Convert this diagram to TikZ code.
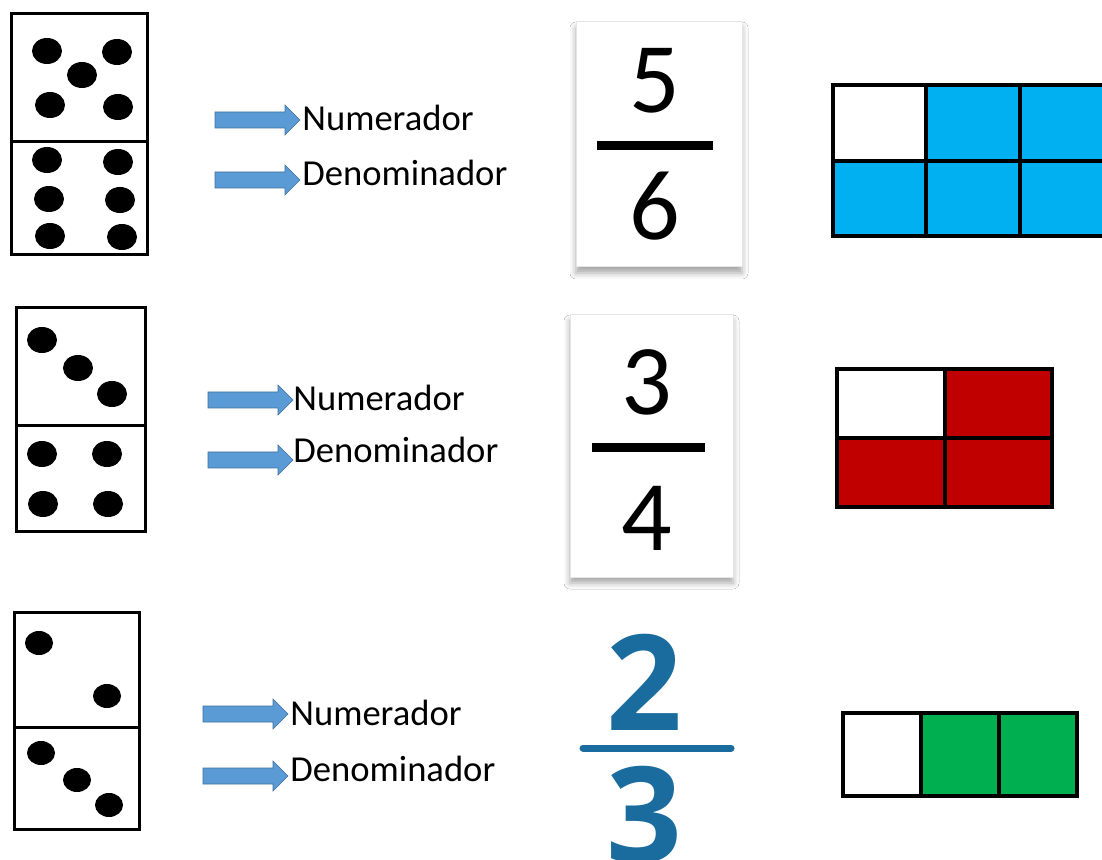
\documentclass[tikz,border=0pt]{standalone}
\usepackage{fontspec}
\setmainfont{Carlito}
\newfontfamily\opensans{Open Sans}
\usetikzlibrary{shadows.blur}
\definecolor{arrowblue}{RGB}{91,155,213}
\definecolor{arrowedge}{RGB}{65,113,156}
\definecolor{cyanfill}{RGB}{0,176,240}
\definecolor{redfill}{RGB}{192,0,0}
\definecolor{greenfill}{RGB}{0,176,80}
\definecolor{fracblue}{RGB}{27,108,158}
\begin{document}
\begin{tikzpicture}[x=0.5pt,y=-0.5pt,
  domino/.style={draw=black,line width=1.5pt,fill=white},
  dominoline/.style={draw=black,line width=1.5pt},
  pip/.style={fill=black},
  lbl/.style={inner sep=0pt,anchor=base west,font=\fontsize{18.3}{20}\selectfont},
  digit/.style={inner sep=0pt,anchor=base,font=\fontsize{50}{55}\selectfont},
  bigdigit/.style={inner sep=0pt,anchor=base,text=fracblue,font=\opensans\bfseries\fontsize{66.5}{70}\selectfont},
  card/.style={draw=black!10,line width=0.5pt,fill=white,blur shadow={shadow xshift=0pt,shadow yshift=-3pt,shadow blur radius=3pt,shadow opacity=35}},
  fracbar/.style={draw=black,line width=4.5pt},
  gridline/.style={draw=black,line width=1.8pt},
  barrow/.pic={\filldraw[fill=arrowblue,draw=arrowedge,line width=0.3pt] (0,-8) -- (70,-8) -- (70,-15) -- (85,0) -- (70,15) -- (70,8) -- (0,8) -- cycle;}
]
\clip (0,0) rectangle (1102,860);
\fill[white] (0,0) rectangle (1102,860);

% ---------- Row 1 ----------
\draw[domino] (11,14) rectangle (147,255);
\draw[dominoline] (11,142) -- (147,142);
\foreach \p in {(47,51),(117,52),(82,75),(50,105),(118,107),
                (47,160),(118,162),(49,199),(120,200),(50,236),(122,237)}
  \fill[pip] \p ellipse [x radius=7.5pt, y radius=6.5pt];

\pic at (215,120) {barrow};
\pic at (215,180) {barrow};
\node[lbl] (num1) at (302,131) {Numerador};
\node[lbl] (den1) at (302,186) {Denominador};

\draw[card] (576,22) rectangle (742,267);
\node[digit] (f1n) at (655,113) {5};
\draw[fracbar] (597,146) -- (713,146);
\node[digit] (f1d) at (655,240) {6};

\fill[cyanfill] (833,85) rectangle (1116,236);
\fill[white] (833,85) rectangle (926,161);
\draw[gridline] (833,85) rectangle (1116,236);
\draw[gridline] (926,85) -- (926,236);
\draw[gridline] (1020,85) -- (1020,236);
\draw[gridline] (833,161) -- (1116,161);

% ---------- Row 2 ----------
\draw[domino] (16,308) rectangle (145,531);
\draw[dominoline] (16,426) -- (145,426);
\foreach \p in {(42,340),(78,368),(112,394),
                (42,454),(107,454),(43,504),(108,504)}
  \fill[pip] \p ellipse [x radius=7.5pt, y radius=6.5pt];

\pic at (208,400) {barrow};
\pic at (208,460) {barrow};
\node[lbl] (num2) at (293,411) {Numerador};
\node[lbl] (den2) at (293,463) {Denominador};

\draw[card] (570,315) rectangle (733,577);
\node[digit] (f2n) at (647,415) {3};
\draw[fracbar] (592,448) -- (705,448);
\node[digit] (f2d) at (647,550) {4};

\fill[redfill] (837,369) rectangle (1052,507);
\fill[white] (837,369) rectangle (945,438);
\draw[gridline] (837,369) rectangle (1052,507);
\draw[gridline] (945,369) -- (945,507);
\draw[gridline] (837,438) -- (1052,438);

% ---------- Row 3 ----------
\draw[domino] (14,612) rectangle (139,829);
\draw[dominoline] (14,727) -- (139,727);
\foreach \p in {(39,643),(107,696),
                (41,753),(77,780),(109,805)}
  \fill[pip] \p ellipse [x radius=7pt, y radius=6pt];

\pic at (203,714) {barrow};
\pic at (203,776) {barrow};
\node[lbl] (num3) at (290,725) {Numerador};
\node[lbl] (den3) at (290,781) {Denominador};

\node[bigdigit] (f3n) at (644,730) {2};
\draw[fracblue,line width=3.5pt,line cap=round] (583,748) -- (731,748);
\node[bigdigit] (f3d) at (644,862) {3};

\fill[greenfill] (843,713) rectangle (1077,796);
\fill[white] (843,713) rectangle (921,796);
\draw[gridline] (843,713) rectangle (1077,796);
\draw[gridline] (921,713) -- (921,796);
\draw[gridline] (999,713) -- (999,796);
\end{tikzpicture}
\end{document}
